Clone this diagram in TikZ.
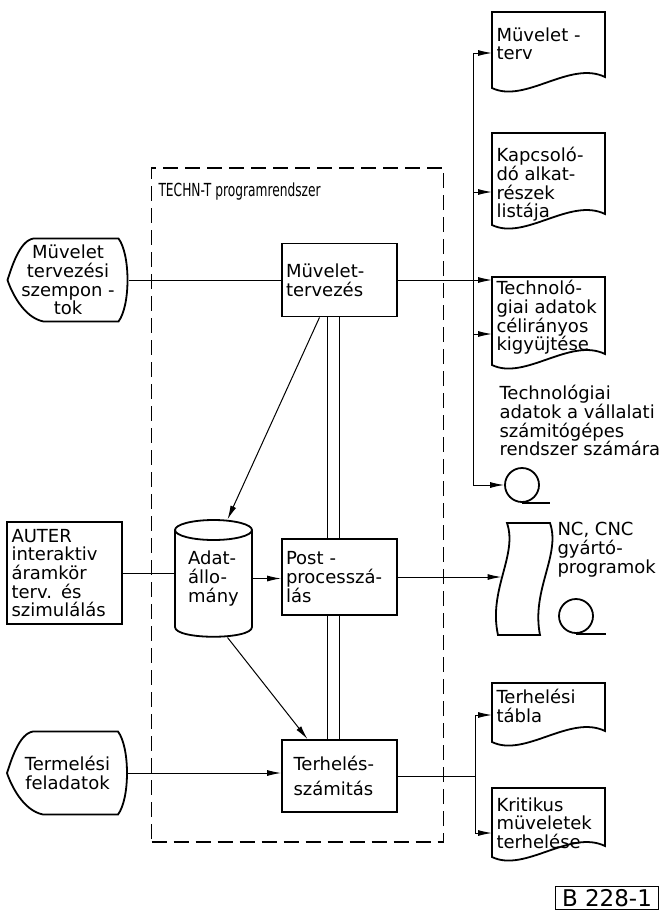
\documentclass[tikz,border=0pt]{standalone}
\usepackage{fontspec}
\setmainfont{DejaVu Sans}
\newfontfamily\narrowsans[FakeStretch=0.68]{DejaVu Sans}
\usetikzlibrary{arrows.meta}

% document symbol (wavy lower edge): top y, lower left y
\newcommand{\docshape}[2]{%
  \draw[line width=0.9pt, fill=white] (492,#1) -- (605,#1) -- (605,#2-11)
    .. controls (570,#2-28) and (525,#2+16) .. (492,#2) -- cycle;}

% input symbol round a named node
\newcommand{\dispshape}[1]{%
  \draw[line width=0.9pt] ([xshift=13pt]#1.north west) -- ([xshift=-5pt]#1.north east)
    .. controls ([xshift=1pt,yshift=-8pt]#1.north east) and ([xshift=1pt,yshift=8pt]#1.south east) .. ([xshift=-5pt]#1.south east)
    -- ([xshift=18pt]#1.south west)
    .. controls ([xshift=8pt,yshift=2pt]#1.south west) and ([xshift=2pt,yshift=-6pt]#1.west) .. (#1.west)
    .. controls ([xshift=2pt,yshift=6pt]#1.west) and ([xshift=6pt,yshift=-1pt]#1.north west) .. ([xshift=13pt]#1.north west) -- cycle;}

\begin{document}
\begin{tikzpicture}[x=0.5pt, y=-0.5pt, line width=0.5pt,
    every node/.style={font=\fontsize{9}{9.3}\selectfont},
    procbox/.style={draw, line width=0.9pt, fill=white, align=left, text width=53.5pt, inner xsep=2pt, minimum height=36.5pt},
    dispnode/.style={minimum width=60pt, minimum height=41pt, inner sep=0pt, align=center},
    doctext/.style={anchor=north west, inner xsep=2pt, inner ysep=0pt, align=left},
    tape/.style={draw, circle, line width=0.9pt, minimum size=17pt, inner sep=0pt},
    arr/.style={-{Latex[length=7pt,width=3pt]}}]

  \useasboundingbox (0,0) rectangle (664,910);
  \fill[white] (0,0) rectangle (664,910);

  % program system frame
  \node[draw, line width=0.7pt, dash pattern=on 7.5pt off 3.5pt, minimum width=146pt, minimum height=337pt] (techn) at (297.5,505) {};
  \node[anchor=north west, inner sep=0pt, font=\narrowsans\fontsize{9}{9.3}\selectfont] (technlabel) at (158,182) {TECHN-T programrendszer};

  % inputs
  \node[dispnode] (szemp) at (68,280) {Müvelet\\tervezési\\szempon -\\tok};
  \dispshape{szemp}
  \node[draw, line width=0.9pt, align=left, text width=53pt, inner xsep=2.25pt, minimum height=51pt] (auter) at (64.5,573) {AUTER\\interaktiv\\áramkör\\terv. és\\szimulálás};
  \node[dispnode] (termel) at (67.5,773) {Termelési\\feladatok};
  \dispshape{termel}

  % programs
  \node[procbox] (muv) at (339.5,280) {Müvelet-\\tervezés};
  \node[procbox, minimum height=38pt] (post) at (339.5,577) {Post -\\processzá-\\lás};
  \node[procbox, text width=46pt, inner xsep=5.75pt, minimum height=36pt] (ter) at (339.5,776) {Terhelés-\\[3pt]számitás};

  % data store
  \draw[line width=0.9pt, fill=white] (175,530) -- (175,627) .. controls (175,640) and (252,640) .. (252,627) -- (252,530);
  \draw[line width=0.9pt] (213.5,530) ellipse [x radius=38.5, y radius=10];
  \node[minimum width=38.5pt, minimum height=58.5pt, inner sep=0pt, align=left] (adat) at (213.5,578.5) {Adat-\\állo-\\mány};

  % outputs
  \docshape{12}{88}
  \node[doctext] (mterv) at (492,27) {Müvelet -\\terv};
  \docshape{133}{225}
  \node[doctext] (kapcs) at (492,147) {Kapcsoló-\\dó alkat-\\részek\\listája};
  \docshape{277}{365}
  \node[doctext] (tech) at (492,280) {Technoló-\\giai adatok\\célirányos\\kigyüjtése};
  \node[doctext] (tapetext) at (495,385) {Technológiai\\adatok a vállalati\\számitógépes\\rendszer számára};
  \node[tape] (tape1) at (522,485) {};
  \draw[line width=0.9pt] (tape1.south) -- ++(28,0);

  \draw[line width=0.9pt, fill=white] (507,523) -- (550,523) .. controls (561,555) and (531,590) .. (540,635)
    -- (498,635) .. controls (488,590) and (518,555) .. (507,523) -- cycle;
  \node[minimum width=21pt, minimum height=56pt, inner sep=0pt] (nctape) at (523,579) {};
  \node[doctext] (nctext) at (553,522) {NC, CNC\\gyártó-\\programok};
  \node[tape] (tape2) at (576,616) {};
  \draw[line width=0.9pt] (tape2.south) -- ++(30,0);

  \docshape{683}{742}
  \node[doctext] (tabla) at (492,689) {Terhelési\\tábla};
  \docshape{788}{857}
  \node[doctext] (krit) at (492,797) {Kritikus\\müveletek\\terhelése};

  \node[draw, line width=0.7pt, font=\fontsize{11.5}{12}\selectfont, minimum width=48pt, minimum height=11.5pt, inner ysep=0.5pt] (rajzszam) at (607,898) {B 228-1};

  % connectors
  \draw (szemp.east) -- (muv.west);
  \draw (auter.east) -- (auter.east -| adat.west);
  \draw[arr] (termel.east) -- (termel.east -| ter.west);

  \draw[arr] ([xshift=-10pt]muv.south) -- ([xshift=7pt]adat.north);
  \draw[arr] ([xshift=7pt]adat.south) -- ([xshift=-16pt]ter.north);
  \draw[arr] (adat.east) -- (adat.east -| post.west);

  \draw ([xshift=-6pt]muv.south) -- ([xshift=-6pt]post.north);
  \draw ([xshift=0pt]muv.south) -- ([xshift=0pt]post.north);
  \draw ([xshift=-6pt]post.south) -- ([xshift=-6pt]ter.north);
  \draw ([xshift=0pt]post.south) -- ([xshift=0pt]ter.north);

  \coordinate (busA) at (473,53);
  \coordinate (busB) at (473,192);
  \coordinate (busC) at (473,334);
  \coordinate (busD) at (473,485);
  \draw[arr] (muv.east) -- (muv.east -| tech.west);
  \draw (busA) -- (busD);
  \draw[arr] (busA) -- (busA -| mterv.west);
  \draw[arr] (busB) -- (busB -| kapcs.west);
  \draw[arr] (busC) -- (busC -| tech.west);
  \draw[arr] (busD) -- (tape1);

  \draw[arr] (post.east) -- (post.east -| nctape.west);

  \coordinate (busE) at (475,715);
  \coordinate (busF) at (475,833);
  \draw (ter.east) -- (ter.east -| busE);
  \draw (busE) -- (busF);
  \draw[arr] (busE) -- (busE -| tabla.west);
  \draw[arr] (busF) -- (busF -| krit.west);
\end{tikzpicture}
\end{document}
